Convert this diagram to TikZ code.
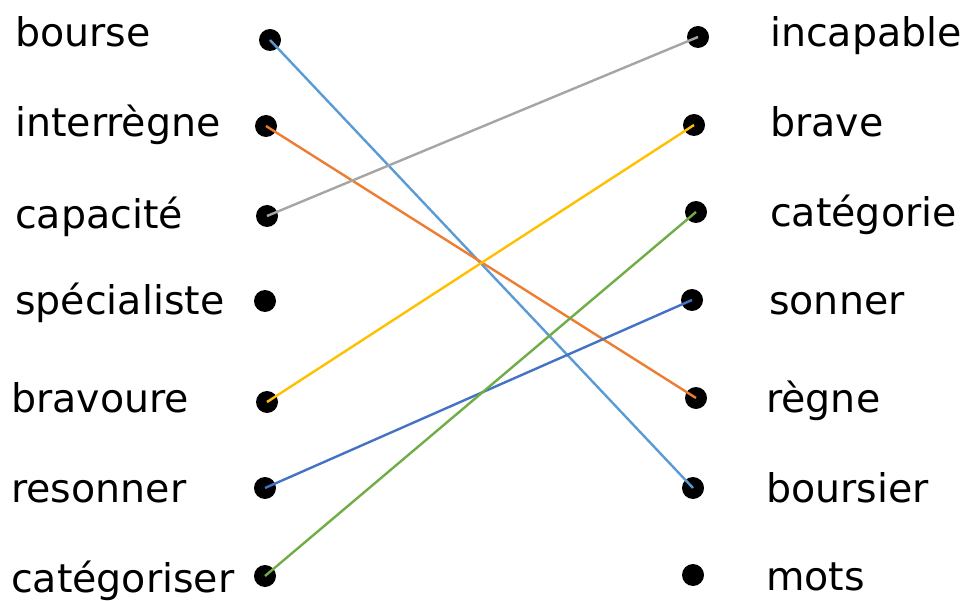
\documentclass[tikz,border=0pt]{standalone}
\usepackage{fontspec}
\setmainfont{DejaVu Sans}
\usetikzlibrary{positioning}
\definecolor{lineblue}{HTML}{5B9BD5}
\definecolor{lineorange}{HTML}{ED7D31}
\definecolor{linegray}{HTML}{A5A5A5}
\definecolor{linegold}{HTML}{FFC000}
\definecolor{linedarkblue}{HTML}{4472C4}
\definecolor{linegreen}{HTML}{70AD47}
\tikzset{
    dot/.style={circle, fill=black, inner sep=0pt, minimum size=22pt}, % black points
    word/.style={anchor=base west, inner sep=0pt, font=\fontsize{39.5}{42}\selectfont}, % the words
    link/.style={line width=2.4pt}, % matching lines
}

\begin{document}
\begin{tikzpicture}[x=1pt, y=-1pt]
    \useasboundingbox (0,0) rectangle (961,601);

    % left column
    \node[dot] (bourse) at (270,40) {};
    \node[dot] (interregne) at (266,126) {};
    \node[dot] (capacite) at (267,216) {};
    \node[dot] (specialiste) at (265,301) {};
    \node[dot] (bravoure) at (267,402) {};
    \node[dot] (resonner) at (265,488) {};
    \node[dot] (categoriser) at (265,576) {};

    \node[word] (bourse-txt) at (15,47) {bourse};
    \node[word] (interregne-txt) at (15,137) {interrègne};
    \node[word] (capacite-txt) at (15,229) {capacité};
    \node[word] (specialiste-txt) at (15,315) {spécialiste};
    \node[word] (bravoure-txt) at (11,413) {bravoure};
    \node[word] (resonner-txt) at (11,502) {resonner};
    \node[word] (categoriser-txt) at (11,592) {catégoriser};

    % right column
    \node[dot] (incapable) at (698,37) {};
    \node[dot] (brave) at (694,125) {};
    \node[dot] (categorie) at (696,212) {};
    \node[dot] (sonner) at (692,300) {};
    \node[dot] (regne) at (696,398) {};
    \node[dot] (boursier) at (693,488) {};
    \node[dot] (mots) at (693,575) {};

    \node[word] (incapable-txt) at (770,47) {incapable};
    \node[word] (brave-txt) at (770,137) {brave};
    \node[word] (categorie-txt) at (770,227) {catégorie};
    \node[word] (sonner-txt) at (769,315) {sonner};
    \node[word] (regne-txt) at (766,412) {règne};
    \node[word] (boursier-txt) at (766,502) {boursier};
    \node[word] (mots-txt) at (766,590) {mots};

    % matching lines
    \draw[link, lineblue] (bourse.center) -- (boursier.center);
    \draw[link, lineorange] (interregne.center) -- (regne.center);
    \draw[link, linegray] (capacite.center) -- (incapable.center);
    \draw[link, linegold] (bravoure.center) -- (brave.center);
    \draw[link, linedarkblue] (resonner.center) -- (sonner.center);
    \draw[link, linegreen] (categoriser.center) -- (categorie.center);
\end{tikzpicture}
\end{document}
